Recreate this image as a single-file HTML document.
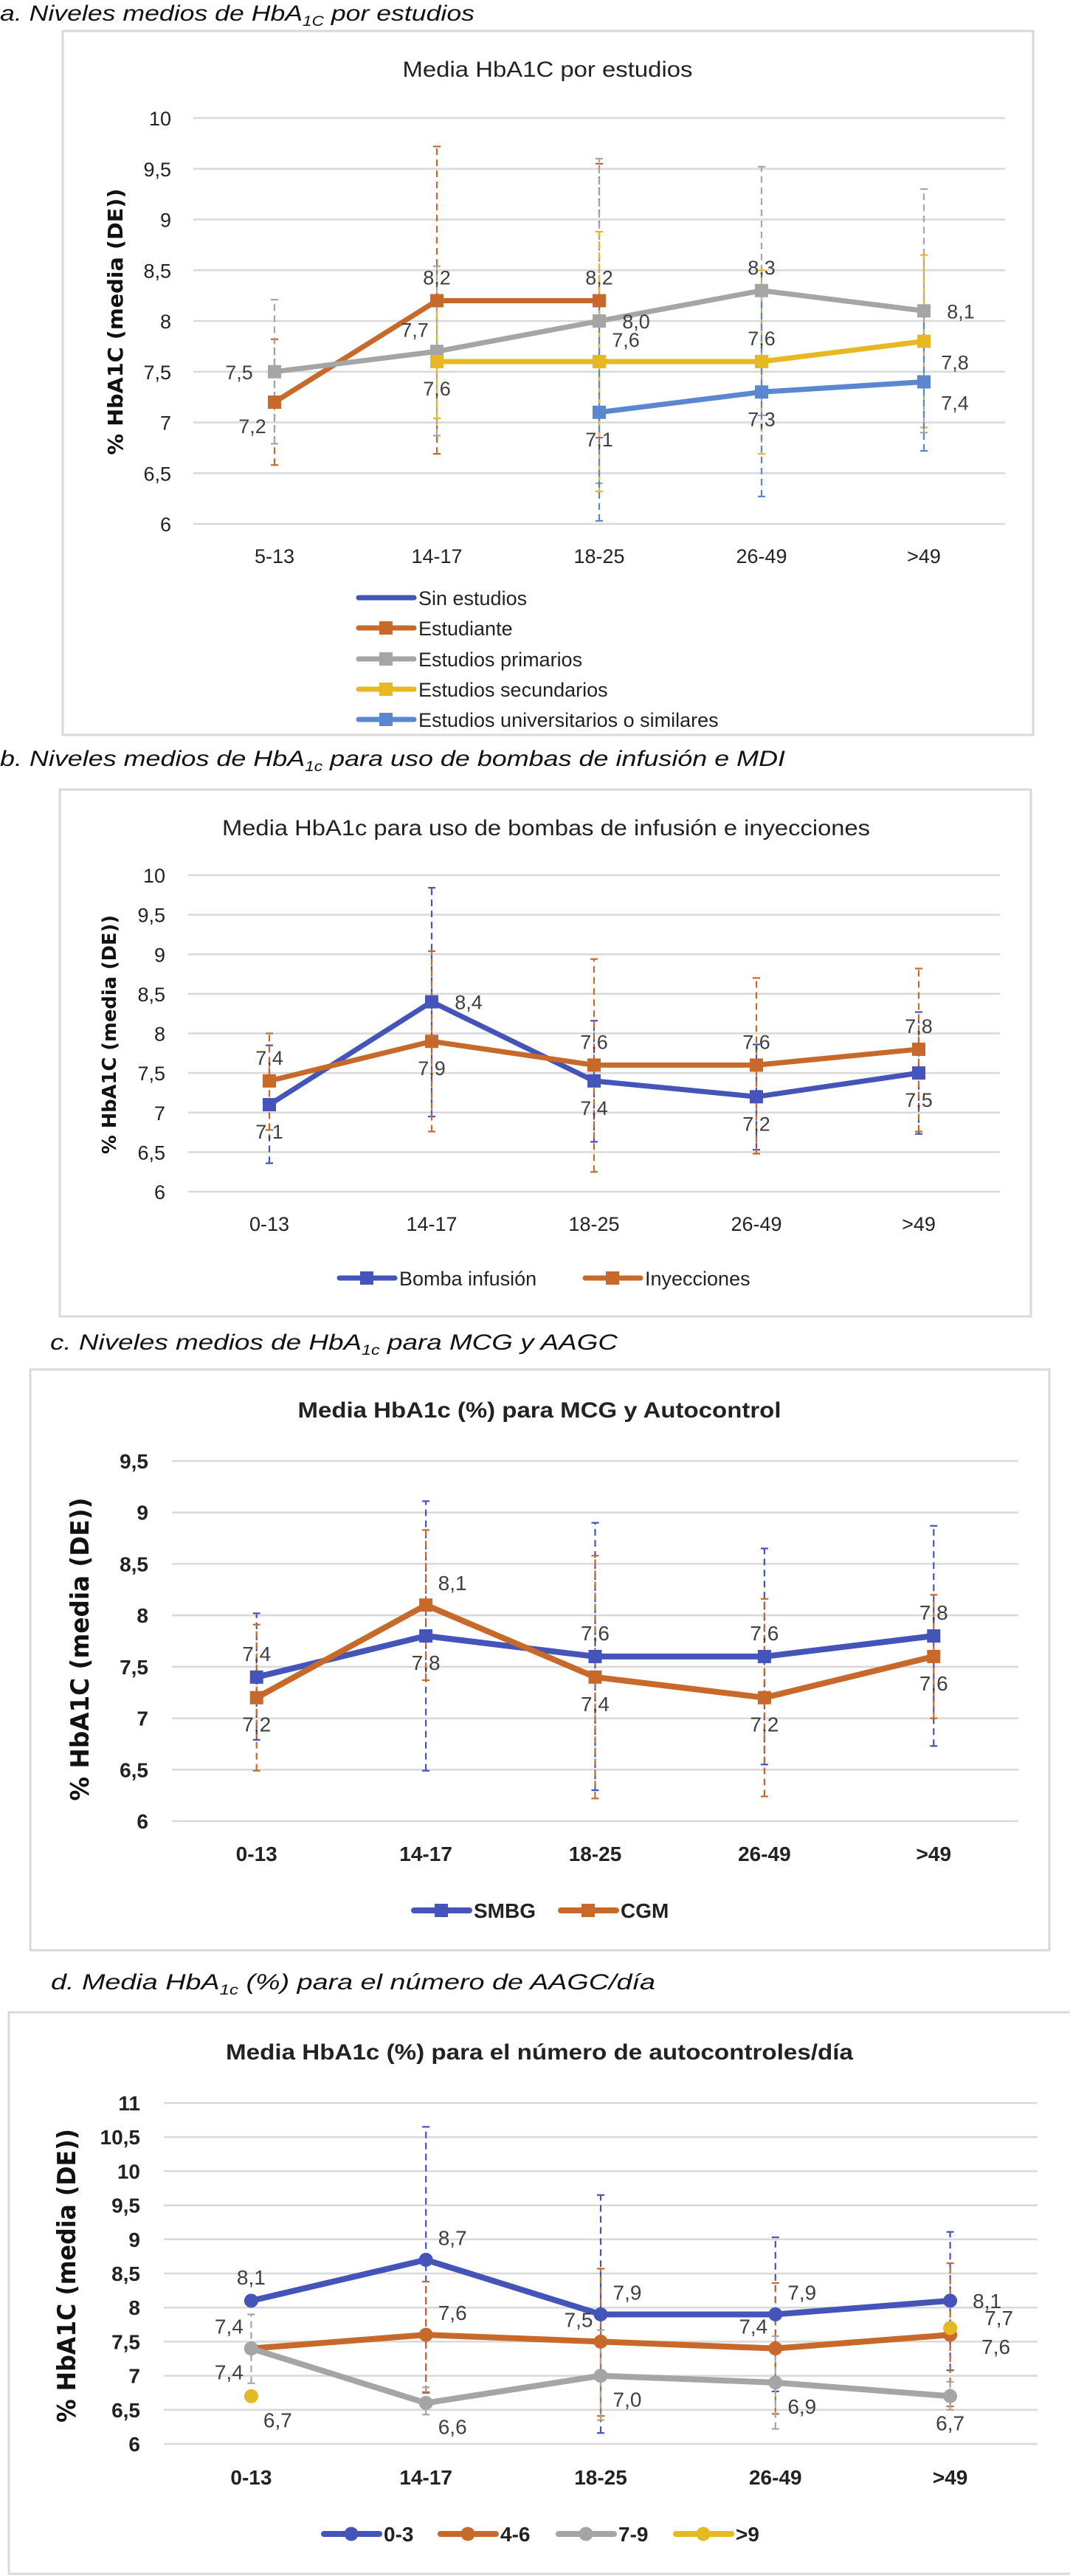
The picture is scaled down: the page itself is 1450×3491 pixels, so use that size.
<!DOCTYPE html>
<html><head><meta charset="utf-8"><style>
html,body{margin:0;padding:0;background:#fff;}
svg{display:block;}
text{font-family:"Liberation Sans",sans-serif;}
</style></head><body>
<svg id="root" width="1450" height="3491" viewBox="0 0 1450 3491" xmlns="http://www.w3.org/2000/svg">
<g font-style="italic" fill="#111" font-size="30">
<text x="0" y="28" textLength="643" lengthAdjust="spacingAndGlyphs">a. Niveles medios de HbA<tspan font-size="19" dy="7">1C</tspan><tspan dy="-7"> por estudios</tspan></text>
<text x="0" y="1038" textLength="1064" lengthAdjust="spacingAndGlyphs">b. Niveles medios de HbA<tspan font-size="19" dy="7">1c</tspan><tspan dy="-7"> para uso de bombas de infusión e MDI</tspan></text>
<text x="68" y="1829" textLength="769" lengthAdjust="spacingAndGlyphs">c. Niveles medios de HbA<tspan font-size="19" dy="7">1c</tspan><tspan dy="-7"> para MCG y AAGC</tspan></text>
<text x="69" y="2696" textLength="819" lengthAdjust="spacingAndGlyphs">d. Media HbA<tspan font-size="19" dy="7">1c</tspan><tspan dy="-7"> (%) para el número de AAGC/día</tspan></text>
</g>
<rect x="85" y="42" width="1315" height="954" fill="none" stroke="#d9d9d9" stroke-width="3"/>
<rect x="81" y="1070" width="1316" height="714" fill="none" stroke="#d9d9d9" stroke-width="3"/>
<rect x="41" y="1856" width="1381" height="787" fill="none" stroke="#d9d9d9" stroke-width="3"/>
<rect x="12" y="2727" width="1450" height="761" fill="none" stroke="#d9d9d9" stroke-width="3"/>
</svg>
<script>
// ---- Chart A data ----
const catsA = ['5-13','14-17','18-25','26-49','>49'];
const ticksA = ['6','6,5','7','7,5','8','8,5','9','9,5','10'];
const sinEstudiosA = [null,null,null,null,null];
const estudianteA = [7.2,8.2,8.2,null,null];
const estudianteLoA = [6.58,6.69,6.85,null,null];
const estudianteHiA = [7.82,9.72,9.55,null,null];
const primariosA = [7.5,7.7,8.0,8.3,8.1];
const primariosLoA = [6.79,6.87,6.4,7.07,6.9];
const primariosHiA = [8.21,8.54,9.6,9.52,9.3];
const secundariosA = [null,7.6,7.6,7.6,7.8];
const secundariosLoA = [null,7.04,6.32,6.69,6.95];
const secundariosHiA = [null,8.15,8.88,8.5,8.65];
const universitariosA = [null,null,7.1,7.3,7.4];
const universitariosLoA = [null,null,6.03,6.27,6.72];
const universitariosHiA = [null,null,8.17,8.32,8.08];
const estudiantePosA = ['bl','a','a',null,null];
const primariosPosA = ['l','al','r','a','r'];
const secundariosPosA = [null,'b','ar','a','rb'];
const universitariosPosA = [null,null,'b','b','rb'];
// ---- Chart B data ----
const catsB = ['0-13','14-17','18-25','26-49','>49'];
const ticksB = ['6','6,5','7','7,5','8','8,5','9','9,5','10'];
const bombaB = [7.1,8.4,7.4,7.2,7.5];
const bombaLoB = [6.36,6.95,6.63,6.53,6.73];
const bombaHiB = [7.85,9.84,8.16,7.86,8.27];
const inyeccionesB = [7.4,7.9,7.6,7.6,7.8];
const inyeccionesLoB = [6.78,6.76,6.25,6.48,6.76];
const inyeccionesHiB = [8.0,9.04,8.94,8.7,8.82];
const bombaPosB = ['b','r','b','b','b'];
const inyeccionesPosB = ['a','b','a','a','a'];
// ---- Chart C data ----
const catsC = ['0-13','14-17','18-25','26-49','>49'];
const ticksC = ['6','6,5','7','7,5','8','8,5','9','9,5'];
const smbgC = [7.4,7.8,7.6,7.6,7.8];
const smbgLoC = [6.79,6.49,6.30,6.55,6.73];
const smbgHiC = [8.02,9.11,8.90,8.65,8.87];
const cgmC = [7.2,8.1,7.4,7.2,7.6];
const cgmLoC = [6.49,7.37,6.22,6.24,7.0];
const cgmHiC = [7.91,8.83,8.58,8.16,8.2];
const smbgPosC = ['a','b','a','a','a'];
const cgmPosC = ['b','ar','b','b','b'];
// ---- Chart D data ----
const catsD = ['0-13','14-17','18-25','26-49','>49'];
const ticksD = ['6','6,5','7','7,5','8','8,5','9','9,5','10','10,5','11'];
const s03D = [8.1,8.7,7.9,7.9,8.1];
const s03LoD = [null,6.75,6.16,6.77,7.08];
const s03HiD = [null,10.65,9.65,9.03,9.11];
const s46D = [7.4,7.6,7.5,7.4,7.6];
const s46LoD = [null,6.76,6.41,6.44,6.55];
const s46HiD = [null,8.38,8.57,8.36,8.65];
const s79D = [7.4,6.6,7.0,6.9,6.7];
const s79LoD = [6.89,6.43,6.35,6.22,6.5];
const s79HiD = [7.9,6.83,7.67,7.58,6.91];
const s9D = [6.7,null,null,null,7.7];
const s03PosD = ['a','ar','ar','ar','r'];
const s46PosD = ['al','ar','al','al','r2'];
const s79PosD = ['bl','br','br','br','b'];
const s9PosD = ['br',null,null,null,'r3'];

const NS='http://www.w3.org/2000/svg';
const root=document.getElementById('root');
function mk(tag,attrs,parent){const e=document.createElementNS(NS,tag);for(const k in attrs)e.setAttribute(k,attrs[k]);(parent||root).appendChild(e);return e;}
const BLUE='#4454B8',ORANGE='#C8692C',GRAY='#A5A5A5',YELLOW='#E6B922',LBLUE='#5B87D0';
const OFF={a:[0,-32],b:[0,36],l:[-48,0],r:[50,0],al:[-30,-30],ar:[36,-30],bl:[-30,32],br:[36,32],rb:[42,28],r2:[62,16],r3:[66,-14]};

function drawChart(c){
  const g=mk('g',{});
  
  
  const n=c.cats.length;
  const yS=v=>c.bottom-(v-c.yMin)/(c.yMax-c.yMin)*(c.bottom-c.top);
  const xS=i=>c.xL+(i+0.5)*(c.xR-c.xL)/n;
  const t=mk('text',{x:c.titleX,y:c.titleY,'text-anchor':'middle','font-size':c.titleSize,fill:'#222','font-weight':c.bold?'bold':'normal'},g);
  t.textContent=c.title;
  
  
  if(c.titleLen){t.setAttribute('textLength',c.titleLen);t.setAttribute('lengthAdjust','spacingAndGlyphs');}
  c.ticks.forEach((lab,i)=>{
    const v=c.yMin+i*0.5;
    const gl=mk('line',{x1:c.xL,x2:c.xR,y1:yS(v),y2:yS(v),stroke:'#d9d9d9','stroke-width':2.5},g);
    
    
    const tl=mk('text',{x:c.tickX,y:yS(v)+10,'text-anchor':'end','font-size':c.tickSize,fill:'#222','font-weight':c.bold?'bold':'normal'},g);
    tl.textContent=lab;
    
    
  });
  c.cats.forEach((lab,i)=>{
    const tl=mk('text',{x:xS(i),y:c.xLabY+10,'text-anchor':'middle','font-size':c.tickSize,fill:'#222','font-weight':c.bold?'bold':'normal'},g);
    tl.textContent=lab;
    
    
  });
  const yt=mk('text',{x:0,y:0,'text-anchor':'middle','font-size':c.yTitleSize,fill:'#111','font-weight':'bold',transform:`translate(${c.yTitleX},${c.yTitleY}) rotate(-90)`,textLength:c.yTitleLen,lengthAdjust:'spacingAndGlyphs',style:'font-family:"DejaVu Sans",sans-serif'},g);
  yt.textContent='% HbA1C (media (DE))';
  
  
  // error bars
  c.series.forEach(s=>{
    if(!s.lo)return;
    s.vals.forEach((v,i)=>{
      if(s.lo[i]==null)return;
      const x=xS(i);
      const eb=mk('g',{stroke:s.color,'stroke-width':2.2,fill:'none'},g);
      
      
      mk('line',{x1:x,x2:x,y1:yS(s.lo[i]),y2:yS(s.hi[i]),'stroke-dasharray':'9 6'},eb);
      mk('line',{x1:x-5,x2:x+5,y1:yS(s.lo[i]),y2:yS(s.lo[i])},eb);
      mk('line',{x1:x-5,x2:x+5,y1:yS(s.hi[i]),y2:yS(s.hi[i])},eb);
    });
  });
  // lines and markers
  c.series.forEach(s=>{
    let d='';let pen=false;
    s.vals.forEach((v,i)=>{if(v==null){pen=false;return;}d+=(pen?'L':'M')+xS(i)+' '+yS(v)+' ';pen=true;});
    if(d){const p=mk('path',{d:d,stroke:s.color,'stroke-width':c.lw,fill:'none','stroke-linejoin':'round'},g);
      
      }
    s.vals.forEach((v,i)=>{
      if(v==null)return;
      let m;
      if(c.marker==='circle'){m=mk('circle',{cx:xS(i),cy:yS(v),r:9.5,fill:s.color},g);}
      else{m=mk('rect',{x:xS(i)-9,y:yS(v)-9,width:18,height:18,fill:s.color},g);}
      
      
    });
  });
  // labels
  c.series.forEach(s=>{
    s.vals.forEach((v,i)=>{
      if(v==null||!s.pos[i])return;
      const o=OFF[s.pos[i]];
      const tl=mk('text',{x:xS(i)+o[0],y:yS(v)+o[1]+10,'text-anchor':'middle','font-size':c.labSize,fill:'#404040'},g);
      tl.textContent=(s.fmt||(x=>x.toFixed(1).replace('.',',')))(v);
      
      
    });
  });
  // legend
  c.legend.forEach(L=>{
    const lg=mk('g',{},g);
    
    
    mk('line',{x1:L.x,x2:L.x+75,y1:L.y,y2:L.y,stroke:L.color,'stroke-width':c.lw,'stroke-linecap':'round'},lg);
    if(L.marker==='circle')mk('circle',{cx:L.x+37,cy:L.y,r:9.5,fill:L.color},lg);
    else if(L.marker==='square')mk('rect',{x:L.x+28,y:L.y-9,width:18,height:18,fill:L.color},lg);
    const tx=mk('text',{x:L.x+81,y:L.y+10,'font-size':c.legSize,fill:'#222','font-weight':c.bold?'bold':'normal'},lg);
    tx.textContent=L.label;
  });
}

drawChart({id:'chart-a',cats:catsA,ticks:ticksA,yMin:6,yMax:10,top:160,bottom:710,xL:262,xR:1362,tickX:232,tickSize:27,xLabY:753,
  title:'Media HbA1C por estudios',titleX:742,titleY:104,titleSize:30,titleLen:393,yTitleX:166,yTitleY:436,yTitleSize:28,yTitleLen:361,
  lw:7,labSize:27,legSize:27,marker:'square',
  series:[
    {key:'sin-estudios',color:BLUE,vals:sinEstudiosA,pos:[]},
    {key:'estudiante',color:ORANGE,vals:estudianteA,lo:estudianteLoA,hi:estudianteHiA,pos:estudiantePosA},
    {key:'primarios',color:GRAY,vals:primariosA,lo:primariosLoA,hi:primariosHiA,pos:primariosPosA},
    {key:'secundarios',color:YELLOW,vals:secundariosA,lo:secundariosLoA,hi:secundariosHiA,pos:secundariosPosA},
    {key:'universitarios',color:LBLUE,vals:universitariosA,lo:universitariosLoA,hi:universitariosHiA,pos:universitariosPosA}],
  legend:[{x:486,y:810,color:BLUE,label:'Sin estudios'},{x:486,y:851,color:ORANGE,marker:'square',label:'Estudiante'},
    {x:486,y:893,color:GRAY,marker:'square',label:'Estudios primarios'},{x:486,y:934,color:YELLOW,marker:'square',label:'Estudios secundarios'},
    {x:486,y:975,color:LBLUE,marker:'square',label:'Estudios universitarios o similares'}]});

drawChart({id:'chart-b',cats:catsB,ticks:ticksB,yMin:6,yMax:10,top:1186,bottom:1615,xL:255,xR:1355,tickX:224,tickSize:27,xLabY:1658,
  title:'Media HbA1c para uso de bombas de infusión e inyecciones',titleX:740,titleY:1132,titleSize:30,titleLen:878,yTitleX:157,yTitleY:1402,yTitleSize:26,yTitleLen:324,
  lw:7,labSize:27,legSize:27,marker:'square',
  series:[
    {key:'bomba-infusion',color:BLUE,vals:bombaB,lo:bombaLoB,hi:bombaHiB,pos:bombaPosB},
    {key:'inyecciones',color:ORANGE,vals:inyeccionesB,lo:inyeccionesLoB,hi:inyeccionesHiB,pos:inyeccionesPosB}],
  legend:[{x:460,y:1732,color:BLUE,marker:'square',label:'Bomba infusión'},{x:793,y:1732,color:ORANGE,marker:'square',label:'Inyecciones'}]});

drawChart({id:'chart-c',cats:catsC,ticks:ticksC,yMin:6,yMax:9.5,top:1980,bottom:2468,xL:233,xR:1380,tickX:201,tickSize:28,xLabY:2512,bold:true,
  title:'Media HbA1c (%) para MCG y Autocontrol',titleX:731,titleY:1921,titleSize:30,titleLen:655,yTitleX:120,yTitleY:2235,yTitleSize:34,yTitleLen:411,
  lw:8,labSize:28,legSize:28,marker:'square',
  series:[
    {key:'smbg',color:BLUE,vals:smbgC,lo:smbgLoC,hi:smbgHiC,pos:smbgPosC},
    {key:'cgm',color:ORANGE,vals:cgmC,lo:cgmLoC,hi:cgmHiC,pos:cgmPosC}],
  legend:[{x:561,y:2589,color:BLUE,marker:'square',label:'SMBG'},{x:760,y:2589,color:ORANGE,marker:'square',label:'CGM'}]});

drawChart({id:'chart-d',cats:catsD,ticks:ticksD,yMin:6,yMax:11,top:2850,bottom:3312,xL:222,xR:1406,tickX:190,tickSize:28,xLabY:3357,bold:true,
  title:'Media HbA1c (%) para el número de autocontroles/día',titleX:731,titleY:2791,titleSize:30,titleLen:850,yTitleX:102,yTitleY:3084,yTitleSize:34,yTitleLen:398,
  lw:8,labSize:28,legSize:28,marker:'circle',
  series:[
    {key:'0-3',color:BLUE,vals:s03D,lo:s03LoD,hi:s03HiD,pos:s03PosD},
    {key:'4-6',color:ORANGE,vals:s46D,lo:s46LoD,hi:s46HiD,pos:s46PosD},
    {key:'7-9',color:GRAY,vals:s79D,lo:s79LoD,hi:s79HiD,pos:s79PosD},
    {key:'gt9',color:YELLOW,vals:s9D,pos:s9PosD}],
  legend:[{x:439,y:3434,color:BLUE,marker:'circle',label:'0-3'},{x:597,y:3434,color:ORANGE,marker:'circle',label:'4-6'},
    {x:757,y:3434,color:GRAY,marker:'circle',label:'7-9'},{x:916,y:3434,color:YELLOW,marker:'circle',label:'>9'}]});
</script>
</body></html>
